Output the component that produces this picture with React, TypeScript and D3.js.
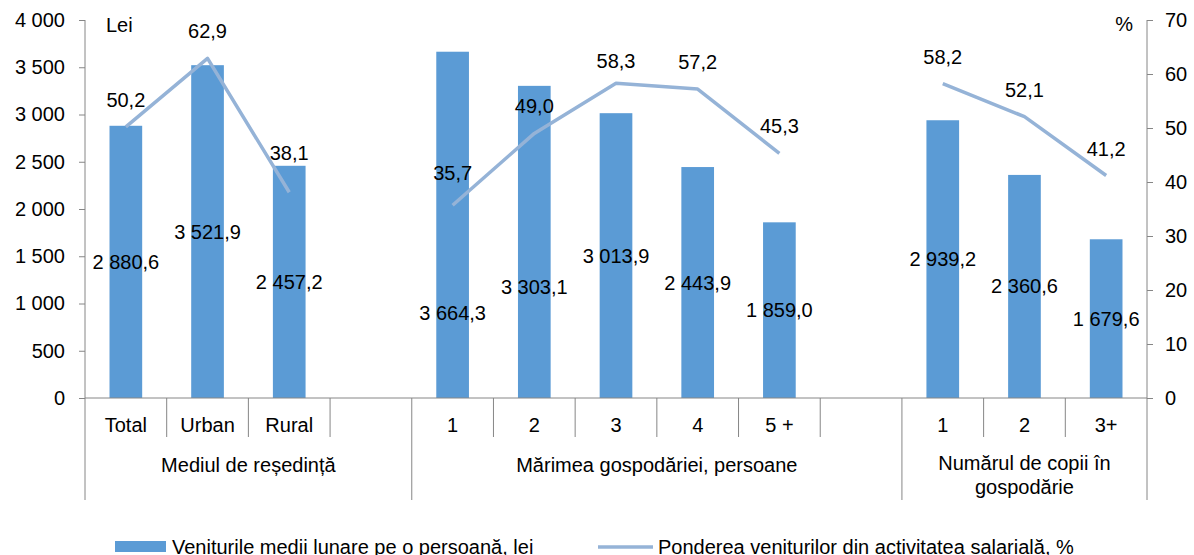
import React, { useEffect, useRef } from 'react';
import * as d3 from 'd3';

// categories (empty string = spacer band between groups)
const categories = ['Total', 'Urban', 'Rural', '', '1', '2', '3', '4', '5 +', '', '1', '2', '3+'];
const income: (number | null)[] = [2880.6, 3521.9, 2457.2, null, 3664.3, 3303.1, 3013.9, 2443.9, 1859.0, null, 2939.2, 2360.6, 1679.6];
const wageShare: (number | null)[] = [50.2, 62.9, 38.1, null, 35.7, 49.0, 58.3, 57.2, 45.3, null, 58.2, 52.1, 41.2];
const groupNames = [['Mediul de reședință'], ['Mărimea gospodăriei, persoane'], ['Numărul de copii în', 'gospodărie']];
const groupBounds = [[0, 4], [4, 10], [10, 13]];
const leftTicks = [0, 500, 1000, 1500, 2000, 2500, 3000, 3500, 4000];
const rightTicks = [0, 10, 20, 30, 40, 50, 60, 70];
const legendLabels = ['Veniturile medii lunare pe o persoană, lei', 'Ponderea veniturilor din activitatea salarială, %'];

// manual label nudges (px), like the hand-moved labels in the original
const barLabelNudge: Record<number, number> = { 4: 88, 5: 45 };
const lineLabelNudge: Record<number, number> = { 2: -12, 4: -5, 6: 5 };

const W = 1194;
const H = 555;
const FONT = '"Liberation Sans", Arial, sans-serif';
const BAR = '#5B9BD5';
const LINE = '#95B3D7';
const AXIS = '#868686';

const ro = d3.formatLocale({ decimal: ',', thousands: ' ', grouping: [3], currency: ['', ''] });
const fmtTick = ro.format(',d');
const fmtVal = ro.format(',.1f');

const App: React.FC = () => {
    const svgRef = useRef<SVGSVGElement>(null);

    useEffect(() => {
        if (!svgRef.current) return;
        const svg = d3.select(svgRef.current);
        svg.selectAll('*').remove();

        const x0 = 85, x1 = 1147, yTop = 20, yBase = 398;
        const x = d3.scaleBand<number>().domain(d3.range(categories.length)).range([x0, x1]).padding(0);
        const yL = d3.scaleLinear().domain([0, 4000]).range([yBase, yTop]);
        const yR = d3.scaleLinear().domain([0, 70]).range([yBase, yTop]);
        const bw = x.bandwidth() * 0.4;
        const cx = (i: number) => (x(i) as number) + x.bandwidth() / 2;

        const g = svg.append('g').style('font-family', FONT).style('font-size', '20px');

        // bars
        g.selectAll('rect.bar')
            .data(income.map((v, i) => ({ v, i })).filter(d => d.v != null))
            .join('rect')
            .attr('class', 'bar')
            .attr('x', d => cx(d.i) - bw / 2)
            .attr('width', bw)
            .attr('y', d => yL(d.v as number))
            .attr('height', d => yBase - yL(d.v as number))
            .attr('fill', BAR);

        // left axis
        const axL = g.append('g').attr('transform', `translate(${x0},0)`)
            .call(d3.axisLeft(yL).tickValues(leftTicks).tickFormat(d => fmtTick(d as number)).tickSize(6).tickPadding(14).tickSizeOuter(0));
        axL.select('.domain').remove();
        axL.selectAll('line').attr('stroke', AXIS);
        axL.selectAll('text').attr('fill', '#000').style('font-size', '20px').style('font-family', FONT);

        const axR = g.append('g').attr('transform', `translate(${x1},0)`)
            .call(d3.axisRight(yR).tickValues(rightTicks).tickSize(6).tickPadding(12).tickSizeOuter(0));
        axR.select('.domain').remove();
        axR.selectAll('line').attr('stroke', AXIS);
        axR.selectAll('text').attr('fill', '#000').style('font-size', '20px').style('font-family', FONT);

        // axis lines (extend down through category area)
        g.append('line').attr('x1', x0).attr('x2', x0).attr('y1', yTop).attr('y2', 500).attr('stroke', AXIS);
        g.append('line').attr('x1', x1).attr('x2', x1).attr('y1', yTop).attr('y2', 500).attr('stroke', AXIS);
        g.append('line').attr('x1', x0).attr('x2', x1).attr('y1', yBase).attr('y2', yBase).attr('stroke', AXIS);

        // category tick separators
        const groupEdges = new Set(groupBounds.map(b => b[0]));
        d3.range(1, categories.length).forEach(i => {
            const xx = x(i) as number;
            g.append('line').attr('x1', xx).attr('x2', xx).attr('y1', yBase).attr('y2', groupEdges.has(i) ? 500 : 437).attr('stroke', AXIS);
        });

        // category labels
        g.selectAll('text.cat')
            .data(categories.map((c, i) => ({ c, i })).filter(d => d.c))
            .join('text')
            .attr('class', 'cat')
            .attr('x', d => cx(d.i))
            .attr('y', 425)
            .attr('dy', '0.35em')
            .attr('text-anchor', 'middle')
            .text(d => d.c);

        // group labels
        groupNames.forEach((lines, gi) => {
            const [a, b] = groupBounds[gi];
            const mx = ((x(a) as number) + (b >= categories.length ? x1 : (x(b) as number))) / 2;
            lines.forEach((t, li) => {
                g.append('text').attr('x', mx).attr('y', 465 + li * 24 - (lines.length > 1 ? 2 : 0)).attr('dy', '0.35em')
                    .attr('text-anchor', 'middle').text(t);
            });
        });

        // line series
        const line = d3.line<number | null>()
            .defined(d => d != null)
            .x((_, i) => cx(i))
            .y(d => yR(d as number));
        g.append('path').datum(wageShare).attr('d', line).attr('fill', 'none')
            .attr('stroke', LINE).attr('stroke-width', 3.5).attr('stroke-linejoin', 'round');

        // bar value labels
        g.selectAll('text.bv')
            .data(income.map((v, i) => ({ v, i })).filter(d => d.v != null))
            .join('text')
            .attr('class', 'bv')
            .attr('x', d => cx(d.i))
            .attr('y', d => (yL(d.v as number) + yBase) / 2 + (barLabelNudge[d.i] || 0))
            .attr('dy', '0.35em')
            .attr('text-anchor', 'middle')
            .text(d => fmtVal(d.v as number));

        // line value labels
        g.selectAll('text.lv')
            .data(wageShare.map((v, i) => ({ v, i })).filter(d => d.v != null))
            .join('text')
            .attr('class', 'lv')
            .attr('x', d => cx(d.i))
            .attr('y', d => yR(d.v as number) - 27 + (lineLabelNudge[d.i] || 0))
            .attr('dy', '0.35em')
            .attr('text-anchor', 'middle')
            .text(d => fmtVal(d.v as number));

        // unit labels
        g.append('text').attr('x', 106).attr('y', 25).attr('dy', '0.35em').text('Lei');
        g.append('text').attr('x', 1133).attr('y', 24).attr('dy', '0.35em').attr('text-anchor', 'end').text('%');

        // legend (cut at the bottom edge, as in the original)
        const lg = g.append('g');
        lg.append('rect').attr('x', 115).attr('y', 541).attr('width', 51).attr('height', 11).attr('fill', BAR);
        lg.append('text').attr('x', 172).attr('y', 546.5).attr('dy', '0.35em').text(legendLabels[0]);
        lg.append('line').attr('x1', 598).attr('x2', 653).attr('y1', 547).attr('y2', 547).attr('stroke', LINE).attr('stroke-width', 3.5);
        lg.append('text').attr('x', 658).attr('y', 546.5).attr('dy', '0.35em').text(legendLabels[1]);
    }, []);

    return (
        <div style={{ position: 'absolute', left: 0, top: 0, width: W, height: H, background: '#fff' }}>
            <svg ref={svgRef} width={W} height={H} style={{ display: 'block' }} />
        </div>
    );
};

export default App;
